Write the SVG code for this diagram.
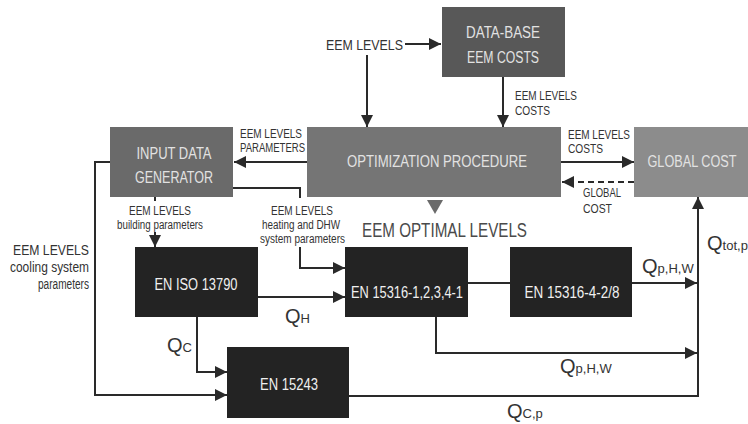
<svg xmlns="http://www.w3.org/2000/svg" width="748" height="424" viewBox="0 0 748 424">
<defs>
<marker id="ah" markerUnits="userSpaceOnUse" markerWidth="13" markerHeight="12" refX="12" refY="6" orient="auto">
<path d="M0,0 L12,6 L0,12 z" fill="#2a2a2a"/>
</marker>
<style>
.b{stroke:none}
.bt{font-family:"Liberation Sans",Arial,sans-serif;font-size:16px;fill:#e2e2e2;text-anchor:middle}
.dt{font-family:"Liberation Sans",Arial,sans-serif;font-size:16px;fill:#f0f0f0;text-anchor:middle}
.lb{font-family:"Liberation Sans",Arial,sans-serif;font-size:12px;fill:#333}
.lg{font-family:"Liberation Sans",Arial,sans-serif;font-size:14px;fill:#333}
.q{font-family:"Liberation Sans",Arial,sans-serif;font-size:20px;fill:#333}
.q tspan{font-size:13px}
.c{fill:none;stroke:#2a2a2a;stroke-width:2}
.a{marker-end:url(#ah)}
</style>
</defs>
<rect width="748" height="424" fill="#ffffff"/>

<g id="connectors">
<path class="c a" d="M405,44 H441"/>
<path class="c a" d="M367,55 V127"/>
<path class="c a" d="M503,77 V127"/>
<path class="c a" d="M307,162 H234"/>
<path class="c a" d="M561,162 H634"/>
<path class="c a" d="M634,182 H562" stroke-dasharray="6,4"/>
<path class="c a" d="M110,162 H95 V395 H227"/>
<path class="c" d="M155,197 V201"/>
<path class="c a" d="M155,232 V247"/>
<path class="c" d="M233,188 H300 V198"/>
<path class="c a" d="M300,247 V268 H345"/>
<path class="c a" d="M258,297 H345"/>
<path class="c a" d="M197,317 V372 H227"/>
<path class="c" d="M468,283 H510"/>
<path class="c a" d="M632,283 H697"/>
<path class="c a" d="M436,317 V353 H697"/>
<path class="c a" d="M349,396 H698 V197"/>
<path d="M427,200 L443,200 L435,214 z" fill="#6a6a6a"/>
</g>

<g id="eem-levels-top">
<text class="lg" x="326" y="50" textLength="77" lengthAdjust="spacingAndGlyphs">EEM LEVELS</text>
</g>

<g id="database">
<rect class="b" x="442" y="7" width="123" height="70" fill="#585858"/>
<text class="bt" x="503" y="38" textLength="74" lengthAdjust="spacingAndGlyphs">DATA-BASE</text>
<text class="bt" x="503" y="63" textLength="72" lengthAdjust="spacingAndGlyphs">EEM COSTS</text>
</g>

<g id="optimization">
<rect class="b" x="307" y="127" width="254" height="70" fill="#757575"/>
<text class="bt" x="437" y="167" textLength="180" lengthAdjust="spacingAndGlyphs">OPTIMIZATION PROCEDURE</text>
</g>

<g id="globalcost">
<rect class="b" x="634" y="127" width="114" height="70" fill="#8c8c8c"/>
<text class="bt" x="692" y="167" textLength="89" lengthAdjust="spacingAndGlyphs">GLOBAL COST</text>
</g>

<g id="inputdata">
<rect class="b" x="110" y="127" width="123" height="70" fill="#6a6a6a"/>
<text class="bt" x="174" y="159" textLength="75" lengthAdjust="spacingAndGlyphs">INPUT DATA</text>
<text class="bt" x="174" y="183" textLength="78" lengthAdjust="spacingAndGlyphs">GENERATOR</text>
</g>

<g id="enIso13790">
<rect class="b" x="135" y="247" width="123" height="70" fill="#232323"/>
<text class="dt" x="196" y="290" textLength="83" lengthAdjust="spacingAndGlyphs">EN ISO 13790</text>
</g>

<g id="en15316">
<rect class="b" x="345" y="247" width="123" height="70" fill="#232323"/>
<text class="dt" x="407" y="298" textLength="112" lengthAdjust="spacingAndGlyphs">EN 15316-1,2,3,4-1</text>
</g>

<g id="en15316-4">
<rect class="b" x="510" y="247" width="122" height="70" fill="#232323"/>
<text class="dt" x="572" y="298" textLength="95" lengthAdjust="spacingAndGlyphs">EN 15316-4-2/8</text>
</g>

<g id="en15243">
<rect class="b" x="227" y="347" width="122" height="71" fill="#232323"/>
<text class="dt" x="289" y="390" textLength="58" lengthAdjust="spacingAndGlyphs">EN 15243</text>
</g>

<g id="labels">
<text class="lb" x="515" y="100" textLength="62" lengthAdjust="spacingAndGlyphs">EEM LEVELS</text>
<text class="lb" x="515" y="115" textLength="35" lengthAdjust="spacingAndGlyphs">COSTS</text>
<text class="lb" x="240" y="138" textLength="62" lengthAdjust="spacingAndGlyphs">EEM LEVELS</text>
<text class="lb" x="240" y="152" textLength="65" lengthAdjust="spacingAndGlyphs">PARAMETERS</text>
<text class="lb" x="568" y="139" textLength="62" lengthAdjust="spacingAndGlyphs">EEM LEVELS</text>
<text class="lb" x="568" y="153" textLength="35" lengthAdjust="spacingAndGlyphs">COSTS</text>
<text class="lb" x="583" y="197" textLength="38" lengthAdjust="spacingAndGlyphs">GLOBAL</text>
<text class="lb" x="583" y="213" textLength="29" lengthAdjust="spacingAndGlyphs">COST</text>
<text class="lb" x="129" y="215" textLength="62" lengthAdjust="spacingAndGlyphs">EEM LEVELS</text>
<text class="lb" x="117" y="229" textLength="86" lengthAdjust="spacingAndGlyphs">building parameters</text>
<text class="lb" x="271" y="215" textLength="62" lengthAdjust="spacingAndGlyphs">EEM LEVELS</text>
<text class="lb" x="262" y="229" textLength="78" lengthAdjust="spacingAndGlyphs">heating and DHW</text>
<text class="lb" x="260" y="243" textLength="85" lengthAdjust="spacingAndGlyphs">system parameters</text>
<text class="lg" x="13" y="255" textLength="76" lengthAdjust="spacingAndGlyphs">EEM LEVELS</text>
<text class="lg" x="10" y="272" textLength="79" lengthAdjust="spacingAndGlyphs">cooling system</text>
<text class="lg" x="38" y="289" textLength="51" lengthAdjust="spacingAndGlyphs">parameters</text>
<text x="362" y="237" textLength="165" lengthAdjust="spacingAndGlyphs" font-family="'Liberation Sans',Arial,sans-serif" font-size="20" fill="#4a4a4a">EEM OPTIMAL LEVELS</text>
<text class="q" x="285" y="323">Q<tspan>H</tspan></text>
<text class="q" x="167" y="352">Q<tspan>C</tspan></text>
<text class="q" x="642" y="273">Q<tspan>p,H,W</tspan></text>
<text class="q" x="560" y="373">Q<tspan>p,H,W</tspan></text>
<text class="q" x="507" y="418">Q<tspan>C,p</tspan></text>
<text class="q" x="707" y="250">Q<tspan>tot,p</tspan></text>
</g>
</svg>
